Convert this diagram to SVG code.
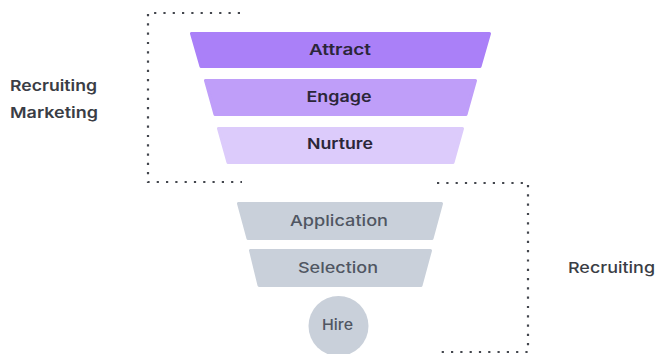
<svg xmlns="http://www.w3.org/2000/svg" width="657" height="354" viewBox="0 0 657 354">
  <style>
    .stage { stroke-width: 3; stroke-linejoin: round; }
    .attract { fill: #aa80f8; stroke: #aa80f8; }
    .engage { fill: #bf9ef9; stroke: #bf9ef9; }
    .nurture { fill: #dccbfb; stroke: #dccbfb; }
    .grey { fill: #c9d0da; stroke: #c9d0da; }
    .lbl { font-family: Inter, "Liberation Sans", sans-serif; font-size: 15px; text-anchor: middle; }
    .lbl-dark { fill: #2b2638; font-weight: 600; }
    .lbl-grey { fill: #505662; font-weight: 500; }
    .side { font-family: Inter, "Liberation Sans", sans-serif; font-size: 15px; fill: #3a3d45; font-weight: 600; }
    .bracket { fill: none; stroke: #43464d; stroke-width: 2.2; stroke-dasharray: 2.2 7.1; }
  </style>

  <!-- dotted brackets grouping the stages -->
  <g id="connectors">
    <polyline class="bracket" points="240,13 148,13 148,182 242,182"/>
    <polyline class="bracket" points="437,183 528,183 528,352 437,352"/>
  </g>

  <g id="attract">
    <polygon class="stage attract" points="191.5,33.5 489.5,33.5 480,66.5 201,66.5"/>
    <text class="lbl lbl-dark" x="340" y="55" textLength="62" lengthAdjust="spacingAndGlyphs">Attract</text>
  </g>
  <g id="engage">
    <polygon class="stage engage" points="205.5,80.5 475.5,80.5 466,114.5 215,114.5"/>
    <text class="lbl lbl-dark" x="339" y="102" textLength="65" lengthAdjust="spacingAndGlyphs">Engage</text>
  </g>
  <g id="nurture">
    <polygon class="stage nurture" points="218.5,128.5 462.5,128.5 453,162.5 228,162.5"/>
    <text class="lbl lbl-dark" x="340" y="149" textLength="66" lengthAdjust="spacingAndGlyphs">Nurture</text>
  </g>
  <g id="application">
    <polygon class="stage grey" points="238.5,203.5 441.5,203.5 432,238.5 248,238.5"/>
    <text class="lbl lbl-grey" x="339" y="226" textLength="98" lengthAdjust="spacingAndGlyphs">Application</text>
  </g>
  <g id="selection">
    <polygon class="stage grey" points="250.5,250.5 430.5,250.5 421,285.5 259,285.5"/>
    <text class="lbl lbl-grey" x="338" y="273" textLength="80" lengthAdjust="spacingAndGlyphs">Selection</text>
  </g>
  <g id="hire">
    <circle cx="338.5" cy="326" r="30" fill="#c9d0da"/>
    <text class="lbl lbl-grey" x="337.5" y="330" textLength="31" lengthAdjust="spacingAndGlyphs">Hire</text>
  </g>

  <g id="label-marketing">
    <text class="side" x="10" y="91" textLength="87" lengthAdjust="spacingAndGlyphs">Recruiting</text>
    <text class="side" x="10" y="118" textLength="88" lengthAdjust="spacingAndGlyphs">Marketing</text>
  </g>
  <g id="label-recruiting">
    <text class="side" x="568" y="273" textLength="87" lengthAdjust="spacingAndGlyphs" style="font-weight:500">Recruiting</text>
  </g>
</svg>
